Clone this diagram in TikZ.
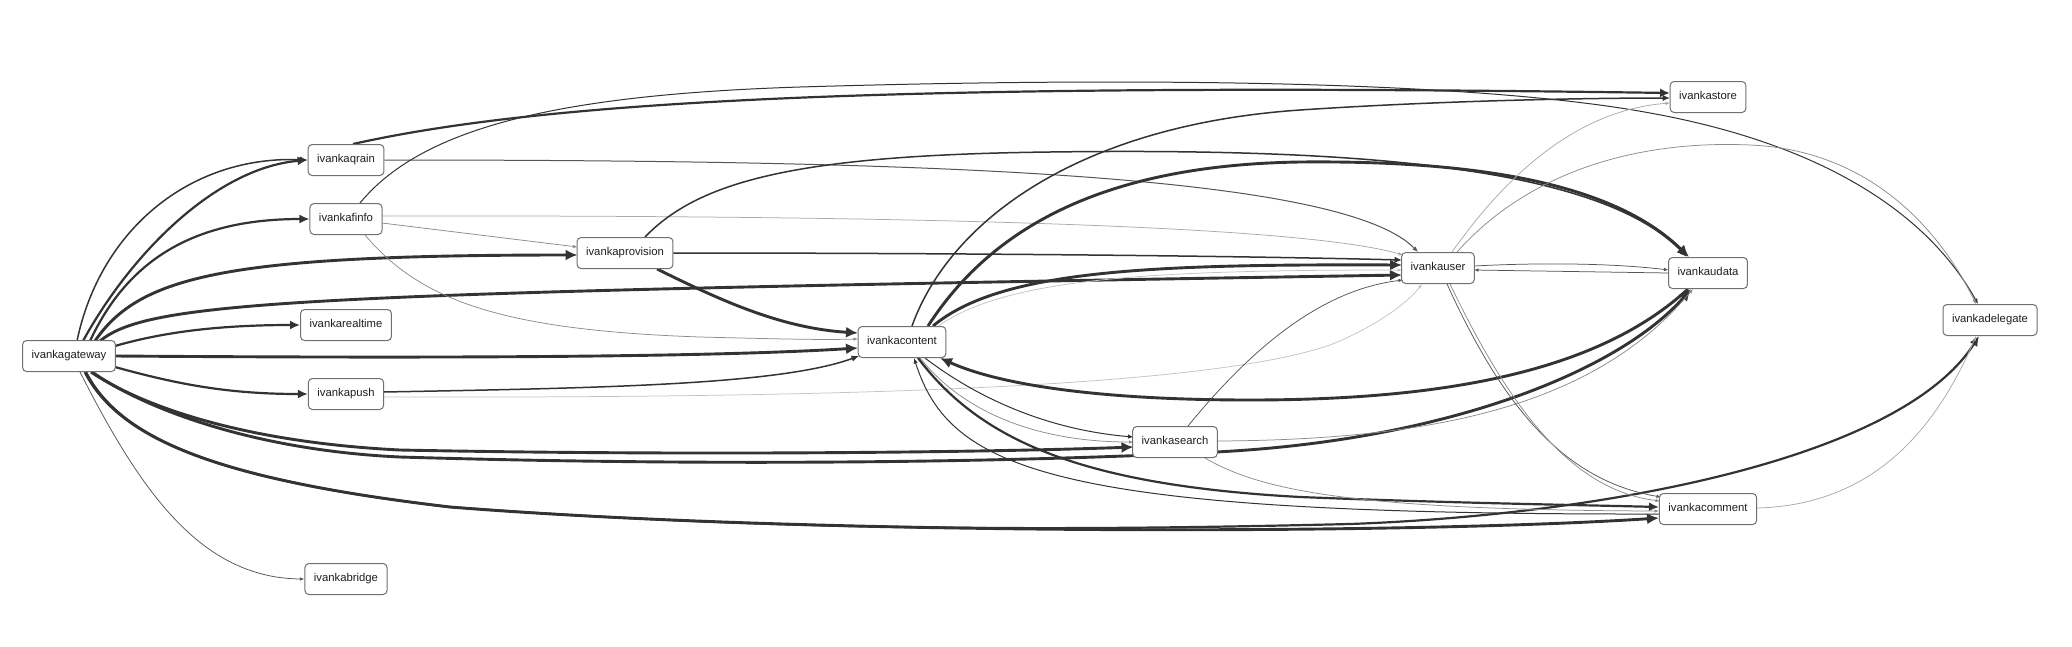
\documentclass[tikz,border=0pt]{standalone}
\usepackage{fontspec}
\setmainfont{Liberation Sans}
\usetikzlibrary{arrows.meta,backgrounds,calc}
\definecolor{ink}{HTML}{333333}
\definecolor{nodeline}{HTML}{707070}
\definecolor{gA}{HTML}{555555}
\definecolor{gB}{HTML}{8C8C8C}
\definecolor{gC}{HTML}{AAAAAA}
\definecolor{gD}{HTML}{C4C4C4}
\tikzset{
  box/.style={draw=nodeline, line width=1pt, fill=white, rounded corners=4pt,
    minimum height=31pt, inner xsep=9pt, inner ysep=0pt, text height=8.2pt, text depth=2.4pt,
    font=\fontsize{11.3}{13.5}\selectfont, text=black!88},
  ea/.style={draw=ink, line width=2.9pt, -{Latex[length=12pt,width=11pt]}},
  eb/.style={draw=ink, line width=2.2pt, -{Latex[length=10pt,width=9pt]}},
  ec/.style={draw=ink, line width=1.5pt, -{Latex[length=7.5pt,width=6.5pt]}},
  ed/.style={draw=ink, line width=1pt, -{Latex[length=5.5pt,width=4.5pt]}},
  ef/.style={draw=gB, line width=0.75pt, -{Latex[length=4.5pt,width=3.5pt]}},
}
\begin{document}
\begin{tikzpicture}[x=1pt,y=-1pt]
\useasboundingbox (0,0) rectangle (2072,646);
% nodes
\node[box] (gateway) at (69,356) {ivankagateway};
\node[box] (qrain) at (346,160) {ivankaqrain};
\node[box] (finfo) at (346,219) {ivankafinfo};
\node[box] (realtime) at (346,325) {ivankarealtime};
\node[box] (push) at (346,394) {ivankapush};
\node[box] (bridge) at (346,579) {ivankabridge};
\node[box] (provision) at (625,253) {ivankaprovision};
\node[box] (content) at (902,342) {ivankacontent};
\node[box] (search) at (1175,442) {ivankasearch};
\node[box] (user) at (1438,268) {ivankauser};
\node[box] (store) at (1708,97) {ivankastore};
\node[box] (udata) at (1708,273) {ivankaudata};
\node[box] (comment) at (1708,509) {ivankacomment};
\node[box] (delegate) at (1990,320) {ivankadelegate};
\begin{scope}[on background layer]
\fill[white] (0,0) rectangle (2072,646);
% gateway
\draw[ec] ($(gateway.center)+(8,-15)$) .. controls (100,230) and (190,155) .. (qrain.west);
\draw[eb] ($(gateway.center)+(14,-15)$) .. controls (130,255) and (215,168) .. (qrain.west);
\draw[eb] ($(gateway.center)+(21,-15)$) .. controls (130,255) and (200,219) .. (finfo.west);
\draw[ea] ($(gateway.center)+(26,-15)$) .. controls (140,275) and (230,255) .. ($(provision.center)+(-47.5,2)$);
\draw[ea] ($(gateway.center)+(31,-15)$) .. controls (150,300) and (300,293) .. ($(user.center)+(-36,7)$);
\draw[eb] ($(gateway.center)+(46,-10)$) .. controls (170,330) and (230,325) .. (realtime.west);
\draw[ea] ($(gateway.center)+(46,0)$) .. controls (400,358) and (700,358) .. ($(content.center)+(-44,6)$);
\draw[eb] ($(gateway.center)+(46,11)$) .. controls (180,385) and (230,394) .. (push.west);
\draw[ea] ($(gateway.center)+(22,16)$) .. controls (140,405) and (240,442) .. (400,450) .. controls (700,456) and (1000,452) .. ($(search.center)+(-41.5,5)$);
\draw[ea] ($(gateway.center)+(23,16)$) .. controls (142,407) and (250,450) .. (400,457) .. controls (700,466) and (1000,463) .. (1216,452) .. controls (1450,440) and (1620,370) .. ($(udata.center)+(-17,16)$);
\draw[ea] ($(gateway.center)+(16,16)$) .. controls (120,440) and (220,480) .. (450,507) .. controls (800,535) and (1400,535) .. ($(comment.center)+(-49,9)$);
\draw[eb] ($(gateway.center)+(17,16)$) .. controls (121,440) and (220,480) .. (450,507) .. controls (800,533) and (1100,530) .. (1350,524) .. controls (1600,515) and (1900,460) .. ($(delegate.center)+(-11,16)$);
\draw[ef, draw=gA] ($(gateway.center)+(11,16)$) .. controls (140,490) and (200,578) .. (bridge.west);
% qrain
\draw[eb] ($(qrain.center)+(7,-16)$) .. controls (550,100) and (900,82) .. ($(store.center)+(-38,-4)$);
\draw[ed, draw=gA] (qrain.east) .. controls (900,160) and (1340,172) .. ($(user.center)+(-20,-16)$);
% finfo
\draw[ed] ($(finfo.center)+(14,-16)$) .. controls (420,130) and (550,95) .. (800,87) .. controls (1200,75) and (1500,85) .. (1650,113) .. controls (1800,140) and (1920,200) .. ($(delegate.center)+(-12,-16)$);
\draw[ef, draw=gC] ($(finfo.center)+(36,-3)$) .. controls (900,215) and (1300,225) .. ($(user.center)+(-35,-13)$);
\draw[ef, draw=gB] ($(finfo.center)+(36,4)$) -- ($(provision.center)+(-47.5,-6)$);
\draw[ef, draw=gB] ($(finfo.center)+(19,16)$) .. controls (420,300) and (500,330) .. (700,337) .. controls (780,339) and (820,340) .. ($(content.center)+(-44,-3)$);
% provision
\draw[ec] ($(provision.center)+(20,-16)$) .. controls (700,180) and (800,155) .. (1050,152) .. controls (1350,148) and (1600,165) .. ($(udata.center)+(-21,-16)$);
\draw[ec] (provision.east) .. controls (900,253) and (1200,255) .. ($(user.center)+(-36,-8)$);
\draw[ea] ($(provision.center)+(32,16)$) .. controls (720,300) and (780,328) .. ($(content.center)+(-44,-9)$);
% push
\draw[ec] ($(push.center)+(37.5,-2)$) .. controls (600,388) and (780,385) .. ($(content.center)+(-43,14)$);
\draw[ef, draw=gD] ($(push.center)+(37.5,3)$) .. controls (800,398) and (1200,390) .. (1330,345) .. controls (1380,325) and (1410,300) .. ($(user.center)+(-16,16)$);
% content
\draw[ec] ($(content.center)+(10,-16)$) .. controls (950,220) and (1080,125) .. (1300,110) .. controls (1450,100) and (1600,98) .. ($(store.center)+(-38,1)$);
\draw[ea] ($(content.center)+(26,-16)$) .. controls (990,230) and (1100,165) .. (1300,162) .. controls (1500,160) and (1620,190) .. ($(udata.center)+(-19,-16)$);
\draw[ea] ($(content.center)+(31,-16)$) .. controls (1000,270) and (1150,264) .. ($(user.center)+(-36,-3)$);
\draw[ef, draw=gD] ($(content.center)+(35,-15)$) .. controls (1005,278) and (1150,270) .. ($(user.center)+(-36,2)$);
\draw[ea] ($(udata.center)+(-20,16)$) .. controls (1600,370) and (1450,400) .. (1250,400) .. controls (1100,400) and (1000,385) .. ($(content.center)+(38,16)$);
\draw[ed] ($(content.center)+(23,16)$) .. controls (980,400) and (1050,430) .. ($(search.center)+(-41.5,-5)$);
\draw[ef, draw=gB] ($(content.center)+(18,16)$) .. controls (970,420) and (1050,442) .. ($(search.center)+(-41.5,0)$);
\draw[eb] ($(content.center)+(16,16)$) .. controls (980,440) and (1080,485) .. (1300,497) .. controls (1450,503) and (1580,505) .. ($(comment.center)+(-49,-2)$);
\draw[ed] ($(comment.center)+(-49,5)$) .. controls (1050,515) and (950,470) .. ($(content.center)+(12,16)$);
% search
\draw[ef, draw=gA] ($(search.center)+(13,-16)$) .. controls (1250,350) and (1320,290) .. ($(user.center)+(-35,12)$);
\draw[ef, draw=gB] ($(search.center)+(41.5,-1)$) .. controls (1450,440) and (1600,400) .. ($(udata.center)+(-15,16)$);
\draw[ef, draw=gB] ($(search.center)+(30,16)$) .. controls (1260,490) and (1350,510) .. ($(comment.center)+(-49,2)$);
% user
\draw[ef, draw=gC] ($(user.center)+(14,-16)$) .. controls (1510,170) and (1580,110) .. ($(store.center)+(-38,6)$);
\draw[ef, draw=gB] ($(user.center)+(19,-16)$) .. controls (1530,170) and (1640,140) .. (1750,145) .. controls (1870,150) and (1940,230) .. ($(delegate.center)+(-14,-16)$);
\draw[ef, draw=gA] ($(user.center)+(36,-2)$) .. controls (1550,262) and (1620,264) .. ($(udata.center)+(-39.5,-3)$);
\draw[ef, draw=gA] ($(udata.center)+(-39.5,0)$) -- ($(user.center)+(36,2)$);
\draw[ef, draw=gA] ($(user.center)+(9,16)$) .. controls (1500,400) and (1560,480) .. ($(comment.center)+(-47,-12)$);
\draw[ef, draw=gB] ($(user.center)+(12,16)$) .. controls (1508,405) and (1570,490) .. ($(comment.center)+(-48,-8)$);
% comment
\draw[ef, draw=gC] ($(comment.center)+(49,-1)$) .. controls (1880,505) and (1940,420) .. ($(delegate.center)+(-14,16)$);
\end{scope}
\end{tikzpicture}
\end{document}
